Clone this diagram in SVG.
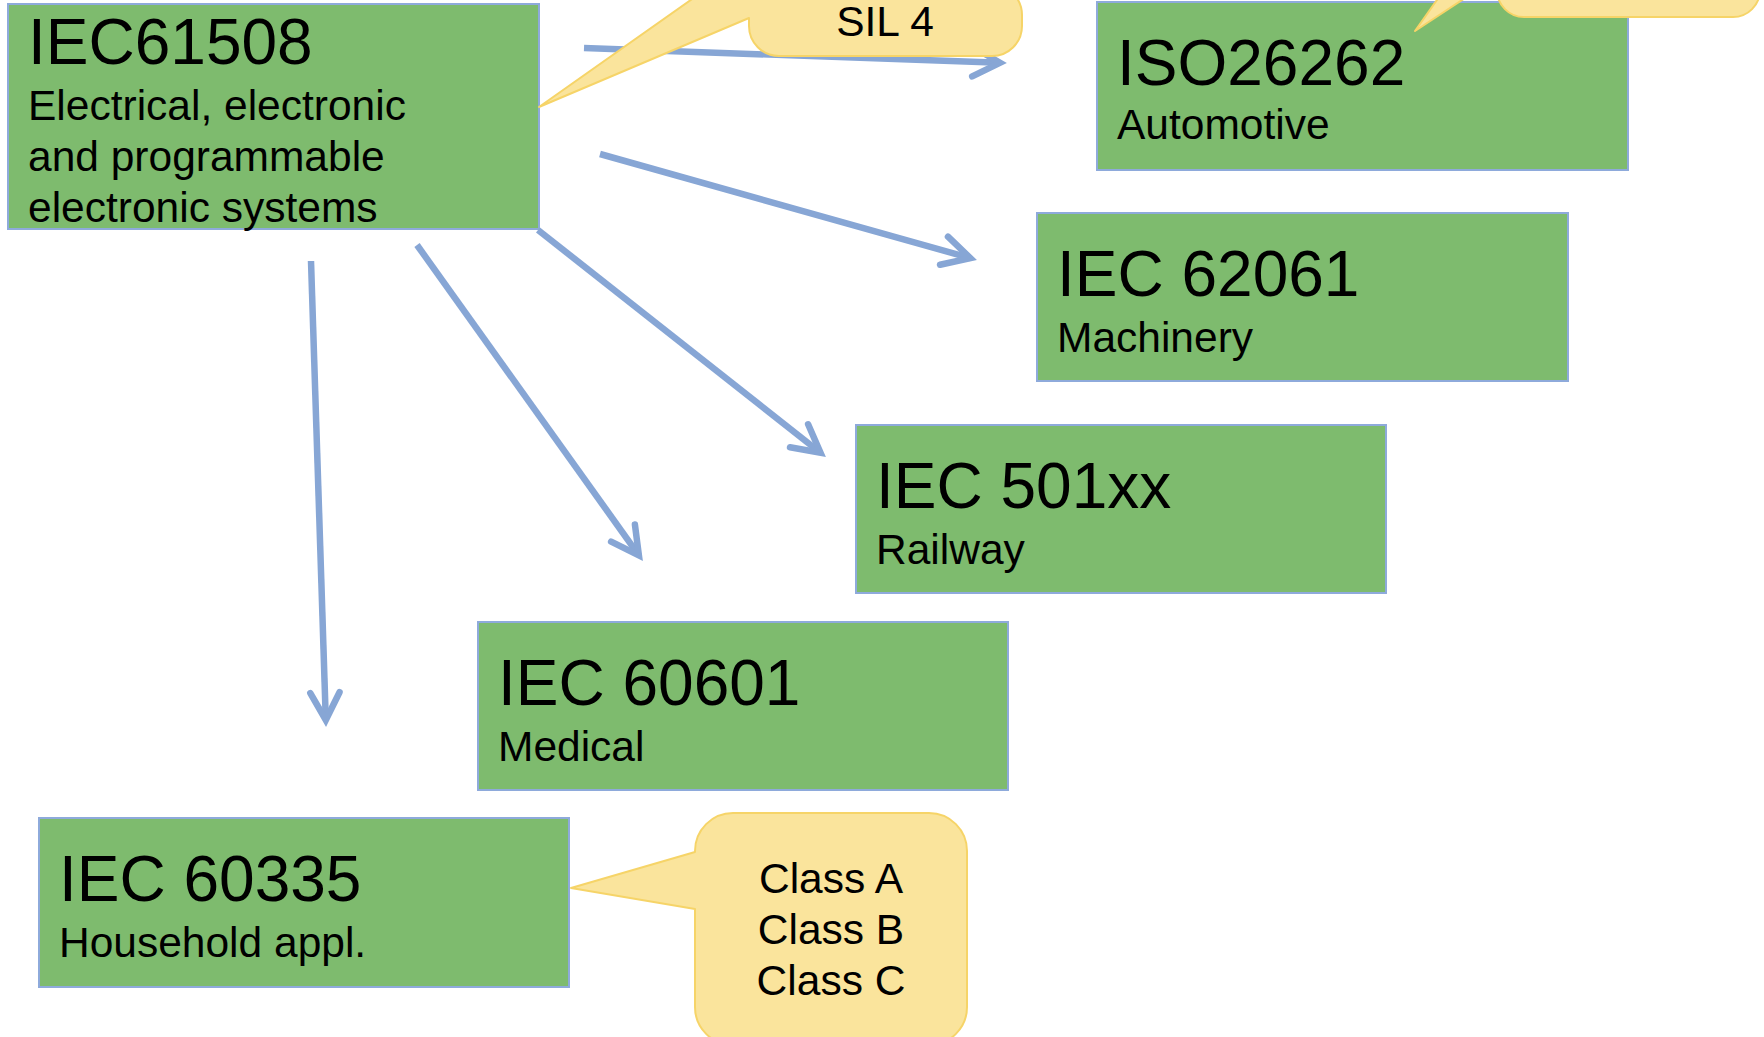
<svg xmlns="http://www.w3.org/2000/svg" width="1764" height="1037" viewBox="0 0 1764 1037">
  <style>
    .box { fill: #7ebb6e; stroke: #8eaadb; stroke-width: 2; }
    .title { font-family: "Liberation Sans", Arial, sans-serif; font-size: 64px; fill: #000; }
    .sub { font-family: "Liberation Sans", Arial, sans-serif; font-size: 42.5px; fill: #000; }
    .note { font-family: "Liberation Sans", Arial, sans-serif; font-size: 42.5px; fill: #000; text-anchor: middle; }
    .link { fill: none; stroke: #87a6d5; stroke-width: 6.5; stroke-linecap: butt; marker-end: url(#open-arrow); }
    .callout { fill: #fae49c; stroke: #f6d468; stroke-width: 2; stroke-linejoin: round; }
  </style>
  <defs>
    <marker id="open-arrow" markerUnits="strokeWidth" markerWidth="8" markerHeight="8" refX="0" refY="0" orient="auto" overflow="visible">
      <path d="M -4.2,-2.25 L 0,0 L -4.2,2.25" fill="none" stroke="#87a6d5" stroke-width="1" stroke-linecap="round" stroke-linejoin="miter"/>
    </marker>
  </defs>

  <rect width="1764" height="1037" fill="#ffffff"/>

  <!-- standard boxes -->
  <g id="iec61508">
    <rect class="box" x="8" y="4" width="531" height="225"/>
    <text class="title" x="28" y="64">IEC61508</text>
    <text class="sub" x="28" y="120">Electrical, electronic</text>
    <text class="sub" x="28" y="171">and programmable</text>
    <text class="sub" x="28" y="222">electronic systems</text>
  </g>
  <g id="iso26262">
    <rect class="box" x="1097" y="2" width="531" height="168"/>
    <text class="title" x="1117" y="85">ISO26262</text>
    <text class="sub" x="1117" y="139">Automotive</text>
  </g>
  <g id="iec62061">
    <rect class="box" x="1037" y="213" width="531" height="168"/>
    <text class="title" x="1057" y="296">IEC 62061</text>
    <text class="sub" x="1057" y="352">Machinery</text>
  </g>
  <g id="iec501xx">
    <rect class="box" x="856" y="425" width="530" height="168"/>
    <text class="title" x="876" y="508">IEC 501xx</text>
    <text class="sub" x="876" y="564">Railway</text>
  </g>
  <g id="iec60601">
    <rect class="box" x="478" y="622" width="530" height="168"/>
    <text class="title" x="498" y="705">IEC 60601</text>
    <text class="sub" x="498" y="761">Medical</text>
  </g>
  <g id="iec60335">
    <rect class="box" x="39" y="818" width="530" height="169"/>
    <text class="title" x="59" y="901">IEC 60335</text>
    <text class="sub" x="59" y="957">Household appl.</text>
  </g>

  <!-- derivation arrows from the base standard -->
  <g id="connectors">
    <line class="link" x1="584" y1="48" x2="1000" y2="62.8"/>
    <line class="link" x1="600" y1="154" x2="970.3" y2="258.1"/>
    <line class="link" x1="538" y1="230" x2="820.5" y2="452.7"/>
    <line class="link" x1="417" y1="245" x2="638.9" y2="555.3"/>
    <line class="link" x1="311" y1="261" x2="325.8" y2="720"/>
  </g>

  <!-- speech-bubble notes -->
  <g id="note-sil4">
    <path class="callout" d="M 539,107 L 749,18 L 749,26 A 30 30 0 0 0 779,56 L 992,56 A 30 30 0 0 0 1022,26 L 1022,15 A 30 30 0 0 0 992,-15 L 712,-15 Z"/>
    <text class="note" x="885" y="36">SIL 4</text>
  </g>
  <g id="note-asil">
    <path class="callout" d="M 1415,31 L 1497,-23 L 1497,-10 A 27 27 0 0 0 1524,17 L 1733,17 A 27 27 0 0 0 1760,-10 L 1760,-100 L 1497,-100 L 1497,-85 Z"/>
  </g>
  <g id="note-class">
    <path class="callout" d="M 571,888 L 695,852 L 695,851 A 38 38 0 0 1 733,813 L 929,813 A 38 38 0 0 1 967,851 L 967,1007 A 38 38 0 0 1 929,1045 L 733,1045 A 38 38 0 0 1 695,1007 L 695,909 Z"/>
    <text class="note" x="831" y="893">Class A</text>
    <text class="note" x="831" y="944">Class B</text>
    <text class="note" x="831" y="995">Class C</text>
  </g>
</svg>
